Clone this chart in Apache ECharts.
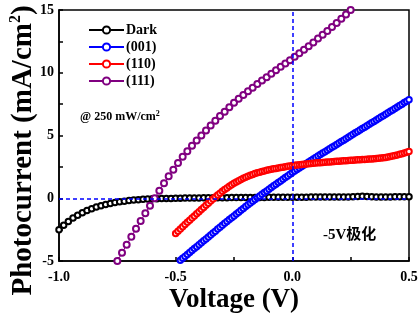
<!DOCTYPE html>
<html>
<head>
<meta charset="utf-8">
<script src="https://cdn.jsdelivr.net/npm/echarts@6/dist/echarts.min.js"></script>
<style>
  html, body { margin: 0; padding: 0; background: #fff; }
  #chart { width: 420px; height: 316px; }
</style>
</head>
<body>
<div id="chart"></div>
<script>
// Dark current (V, mA/cm2)
const darkV = [-1.00,-0.98,-0.96,-0.94,-0.92,-0.90,-0.88,-0.86,-0.84,-0.82,-0.80,-0.78,-0.76,-0.74,-0.72,-0.70,-0.68,-0.66,-0.64,-0.62,-0.60,-0.58,-0.56,-0.54,-0.52,-0.50,
  -0.48,-0.46,-0.44,-0.42,-0.40,-0.38,-0.36,-0.34,-0.32,-0.30,-0.28,-0.26,-0.24,-0.22,-0.20,-0.18,-0.16,-0.14,-0.12,-0.10,-0.08,-0.06,-0.04,-0.02,
  0.00,0.02,0.04,0.06,0.08,0.10,0.12,0.14,0.16,0.18,0.20,0.22,0.24,0.26,0.28,0.30,0.32,0.34,0.36,0.38,0.40,0.42,0.44,0.46,0.48,0.50];
const darkI = [-2.50,-2.15,-1.85,-1.58,-1.35,-1.15,-0.98,-0.83,-0.70,-0.59,-0.50,-0.41,-0.34,-0.28,-0.23,-0.18,-0.14,-0.11,-0.08,-0.06,-0.04,-0.03,-0.02,-0.01,-0.01,0.00,
  0.00,0.01,0.01,0.02,0.02,0.03,0.03,0.03,0.04,0.04,0.04,0.05,0.05,0.05,0.05,0.06,0.06,0.06,0.06,0.07,0.07,0.07,0.07,0.08,
  0.08,0.08,0.08,0.08,0.09,0.09,0.09,0.09,0.09,0.10,0.10,0.10,0.10,0.12,0.14,0.15,0.14,0.12,0.10,0.10,0.10,0.10,0.11,0.11,0.11,0.11];

// (001)
const v001 = [-0.48,-0.47,-0.46,-0.45,-0.44,-0.43,-0.42,-0.41,-0.40,-0.39,-0.38,-0.37,-0.36,-0.35,-0.34,-0.33,-0.32,-0.31,-0.30,-0.29,-0.28,-0.27,-0.26,-0.25,-0.24,-0.23,-0.22,-0.21,-0.20,
  -0.19,-0.18,-0.17,-0.16,-0.15,-0.14,-0.13,-0.12,-0.11,-0.10,-0.09,-0.08,-0.07,-0.06,-0.05,-0.04,-0.03,-0.02,-0.01,0.00,
  0.01,0.02,0.03,0.04,0.05,0.06,0.07,0.08,0.09,0.10,0.11,0.12,0.13,0.14,0.15,0.16,0.17,0.18,0.19,0.20,0.21,0.22,0.23,0.24,0.25,
  0.26,0.27,0.28,0.29,0.30,0.31,0.32,0.33,0.34,0.35,0.36,0.37,0.38,0.39,0.40,0.41,0.42,0.43,0.44,0.45,0.46,0.47,0.48,0.49,0.50];
const i001 = [-4.95,-4.79,-4.64,-4.48,-4.33,-4.17,-4.01,-3.86,-3.70,-3.55,-3.39,-3.24,-3.08,-2.93,-2.77,-2.62,-2.46,-2.31,-2.15,-2.00,-1.85,-1.70,-1.55,-1.41,-1.26,-1.11,-0.96,-0.81,-0.66,
  -0.52,-0.38,-0.24,-0.10,0.04,0.18,0.31,0.45,0.58,0.72,0.85,0.99,1.12,1.25,1.38,1.52,1.65,1.78,1.92,2.05,
  2.17,2.29,2.41,2.53,2.65,2.77,2.89,3.01,3.13,3.25,3.37,3.48,3.60,3.71,3.83,3.94,4.06,4.17,4.29,4.40,4.52,4.63,4.75,4.86,4.98,
  5.09,5.21,5.32,5.44,5.55,5.66,5.78,5.89,6.01,6.12,6.24,6.35,6.47,6.58,6.70,6.81,6.93,7.04,7.16,7.27,7.39,7.50,7.62,7.73,7.85];

// (110)
const v110 = [-0.50,-0.49,-0.48,-0.47,-0.46,-0.45,-0.44,-0.43,-0.42,-0.41,-0.40,-0.39,-0.38,-0.37,-0.36,-0.35,-0.34,-0.33,-0.32,-0.31,-0.30,-0.29,-0.28,-0.27,-0.26,-0.25,-0.24,-0.23,-0.22,-0.21,-0.20,
  -0.19,-0.18,-0.17,-0.16,-0.15,-0.14,-0.13,-0.12,-0.11,-0.10,-0.09,-0.08,-0.07,-0.06,-0.05,-0.04,-0.03,-0.02,-0.01,0.00,
  0.01,0.02,0.03,0.04,0.05,0.06,0.07,0.08,0.09,0.10,0.11,0.12,0.13,0.14,0.15,0.16,0.17,0.18,0.19,0.20,0.21,0.22,0.23,0.24,0.25,
  0.26,0.27,0.28,0.29,0.30,0.31,0.32,0.33,0.34,0.35,0.36,0.37,0.38,0.39,0.40,0.41,0.42,0.43,0.44,0.45,0.46,0.47,0.48,0.49,0.50];
const i110 = [-2.80,-2.62,-2.45,-2.27,-2.10,-1.92,-1.75,-1.58,-1.41,-1.24,-1.07,-0.90,-0.73,-0.56,-0.39,-0.22,-0.06,0.10,0.25,0.40,0.55,0.69,0.82,0.95,1.08,1.20,1.30,1.40,1.50,1.59,1.68,
  1.76,1.83,1.90,1.97,2.03,2.08,2.13,2.18,2.23,2.28,2.31,2.35,2.38,2.42,2.45,2.48,2.51,2.54,2.57,2.60,
  2.62,2.64,2.66,2.68,2.70,2.72,2.74,2.76,2.78,2.80,2.82,2.83,2.85,2.86,2.88,2.89,2.91,2.92,2.94,2.95,2.96,2.98,2.99,3.01,3.02,
  3.03,3.04,3.06,3.07,3.08,3.09,3.10,3.12,3.13,3.14,3.16,3.18,3.20,3.22,3.25,3.28,3.32,3.36,3.40,3.45,3.50,3.55,3.61,3.66,3.72];

// (111)
const v111 = [-0.75,-0.73,-0.71,-0.69,-0.67,-0.65,-0.63,-0.61,-0.59,-0.57,-0.55,-0.53,-0.51,-0.49,-0.47,-0.45,-0.43,-0.41,-0.39,-0.37,-0.35,-0.33,-0.31,-0.29,-0.27,-0.25,
  -0.23,-0.21,-0.19,-0.17,-0.15,-0.13,-0.11,-0.09,-0.07,-0.05,-0.03,-0.01,0.01,0.03,0.05,0.07,0.09,0.11,0.13,0.15,0.17,0.19,0.21,0.23,0.25];
const i111 = [-5.00,-4.35,-3.70,-3.07,-2.44,-1.82,-1.20,-0.60,0.00,0.60,1.20,1.75,2.28,2.80,3.30,3.75,4.18,4.60,5.00,5.40,5.80,6.18,6.55,6.90,7.25,7.60,
  7.92,8.22,8.52,8.80,9.10,9.38,9.65,9.92,10.20,10.47,10.73,11.00,11.27,11.55,11.83,12.12,12.42,12.72,13.02,13.33,13.65,13.97,14.30,14.65,15.00];

const seriesNames = ["Dark", "(001)", "(110)", "(111)"];
const seriesColors = ["#000000", "#0000ff", "#ff0000", "#800080"];

const serif = "'Liberation Serif', 'Times New Roman', serif";
const pairs = (xs, ys) => xs.map((x, i) => [x, ys[i]]);

const chart = echarts.init(document.getElementById("chart"));

function makeSeries(idx, data, size) {
  return {
    name: seriesNames[idx],
    type: "line",
    data: data,
    symbol: "emptyCircle",
    symbolSize: size,
    showSymbol: true,
    showAllSymbol: true,
    color: seriesColors[idx],
    lineStyle: { width: 1, color: seriesColors[idx] },
    itemStyle: { color: seriesColors[idx], borderColor: seriesColors[idx], borderWidth: 1 },
    emphasis: { disabled: true },
    animation: false
  };
}

const darkSeries = makeSeries(0, pairs(darkV, darkI), 5.5);
darkSeries.markLine = {
  silent: true,
  symbol: ["none", "none"],
  label: { show: false },
  lineStyle: { color: "#0000ff", type: [4, 3], width: 1.5 },
  data: [{ xAxis: 0 }, { yAxis: 0 }],
  animation: false
};

const option = {
  animation: false,
  backgroundColor: "#fff",
  grid: {
    left: 59, right: 11, top: 10, bottom: 55,
    containLabel: false,
    outerBoundsMode: "none",
    show: true, borderColor: "#000", borderWidth: 1.5
  },
  legend: {
    orient: "vertical",
    left: 83, top: 18,
    itemWidth: 35, itemHeight: 9, itemGap: 3,
    textStyle: { fontFamily: serif, fontWeight: "bold", fontSize: 14, color: "#000", padding: [0, 0, 0, -3] },
    data: seriesNames
  },
  xAxis: {
    type: "value",
    min: -1, max: 0.5, interval: 0.5,
    name: "Voltage (V)",
    nameLocation: "middle",
    nameGap: 26,
    nameMoveOverlap: false,
    nameTextStyle: { fontFamily: serif, fontWeight: "bold", fontSize: 27, color: "#000" },
    axisLine: { show: true, onZero: false, lineStyle: { color: "#000", width: 1.5 } },
    axisTick: { show: true, inside: true, length: 4, lineStyle: { color: "#000", width: 1.5 } },
    minorTick: { show: true, splitNumber: 2, length: 4, lineStyle: { color: "#000", width: 1.5 } },
    splitLine: { show: false },
    axisLabel: {
      margin: 9, fontFamily: serif, fontWeight: "bold", fontSize: 14, color: "#000",
      formatter: v => v.toFixed(1)
    }
  },
  yAxis: {
    type: "value",
    min: -5, max: 15, interval: 5,
    name: "{a|Photocurrent (mA/cm}{s|2}{a|)}",
    nameLocation: "middle",
    nameGap: 20,
    nameMoveOverlap: false,
    nameTextStyle: {
      padding: [0, 30, 0, 0],
      rich: {
        a: { fontFamily: serif, fontWeight: "bold", fontSize: 29, color: "#000" },
        s: { fontFamily: serif, fontWeight: "bold", fontSize: 16, color: "#000", padding: [0, 0, 15, 0] }
      }
    },
    axisLine: { show: true, onZero: false, lineStyle: { color: "#000", width: 1.5 } },
    axisTick: { show: true, inside: true, length: 4, lineStyle: { color: "#000", width: 1.5 } },
    minorTick: { show: true, splitNumber: 2, length: 4, lineStyle: { color: "#000", width: 1.5 } },
    splitLine: { show: false },
    axisLabel: { margin: 5, fontFamily: serif, fontWeight: "bold", fontSize: 14, color: "#000" }
  },
  graphic: [
    {
      type: "text", left: 80, top: 110,
      style: {
        text: "{a|@ 250 mW/cm}{s|2}",
        rich: {
          a: { fontFamily: serif, fontWeight: "bold", fontSize: 12, fill: "#000", color: "#000" },
          s: { fontFamily: serif, fontWeight: "bold", fontSize: 8, fill: "#000", color: "#000", padding: [0, 0, 6, 0] }
        }
      }
    },
    {
      type: "text", left: 323, top: 228,
      style: {
        text: "-5V极化",
        font: "bold 15px 'Liberation Serif', 'Noto Sans CJK SC', serif",
        fill: "#000"
      }
    }
  ],
  series: [
    darkSeries,
    makeSeries(1, pairs(v001, i001), 5.5),
    makeSeries(2, pairs(v110, i110), 5.5),
    makeSeries(3, pairs(v111, i111), 6)
  ]
};

chart.setOption(option);
</script>
</body>
</html>
